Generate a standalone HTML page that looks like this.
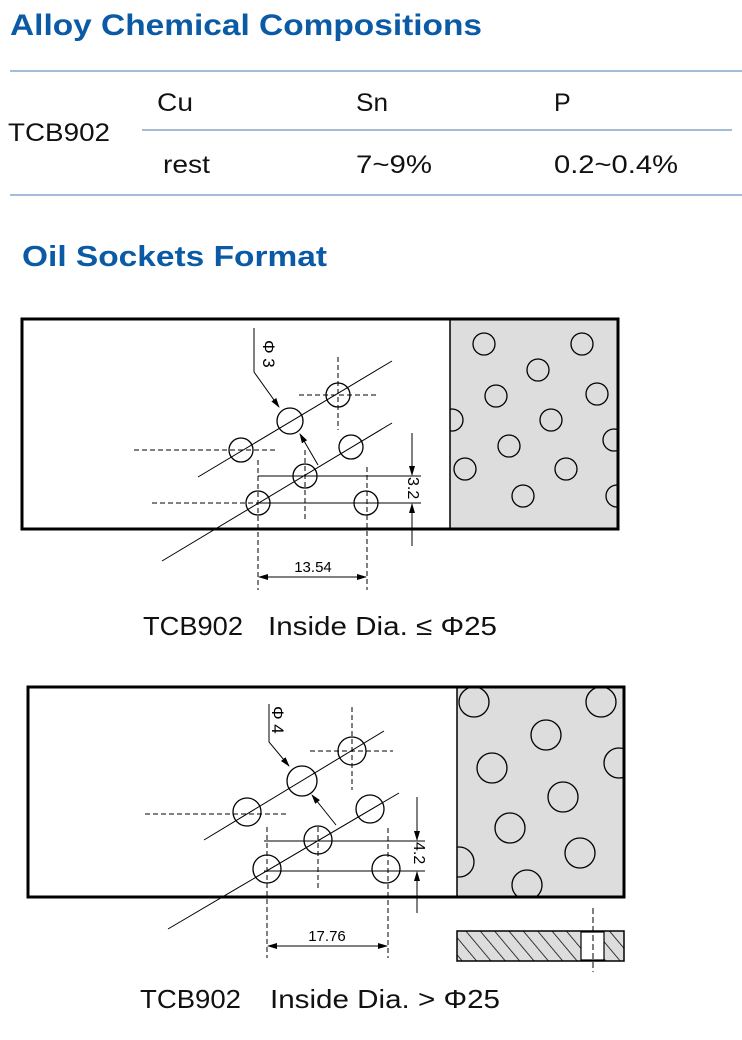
<!DOCTYPE html>
<html><head><meta charset="utf-8"><style>
html,body{margin:0;padding:0;background:#fff;}
svg{display:block;font-family:"Liberation Sans",sans-serif;}
</style></head><body>
<svg width="742" height="1040" viewBox="0 0 742 1040" xmlns="http://www.w3.org/2000/svg">
<defs>
<marker id="ar" markerWidth="10" markerHeight="8" refX="9" refY="4" orient="auto" markerUnits="userSpaceOnUse"><path d="M0,1 L10,4 L0,7 Z" fill="#000"/></marker>
<pattern id="hatch" width="11" height="11" patternUnits="userSpaceOnUse" patternTransform="rotate(-40)"><rect width="11" height="11" fill="#ddd"/><line x1="0" y1="0" x2="0" y2="11" stroke="#000" stroke-width="1.5"/></pattern>
<clipPath id="c1"><rect x="450" y="319" width="168" height="210"/></clipPath>
<clipPath id="c2"><rect x="457" y="687" width="167" height="210"/></clipPath>
</defs>
<text x="10" y="35" font-size="30" font-weight="bold" fill="#0b5aa6" textLength="472" lengthAdjust="spacingAndGlyphs">Alloy Chemical Compositions</text>
<line x1="10" y1="71" x2="742" y2="71" stroke="#a4bdd6" stroke-width="2"/>
<line x1="142" y1="130" x2="732" y2="130" stroke="#a4bdd6" stroke-width="2"/>
<line x1="10" y1="195" x2="742" y2="195" stroke="#a4bdd6" stroke-width="2"/>
<g font-size="25" fill="#111">
<text x="8" y="141" textLength="102" lengthAdjust="spacingAndGlyphs">TCB902</text>
<text x="157" y="111" textLength="36" lengthAdjust="spacingAndGlyphs">Cu</text>
<text x="356" y="111" textLength="32" lengthAdjust="spacingAndGlyphs">Sn</text>
<text x="554" y="111">P</text>
<text x="163" y="173" textLength="47" lengthAdjust="spacingAndGlyphs">rest</text>
<text x="356" y="173" textLength="76" lengthAdjust="spacingAndGlyphs">7~9%</text>
<text x="554" y="173" textLength="124" lengthAdjust="spacingAndGlyphs">0.2~0.4%</text>
</g>
<text x="22" y="266" font-size="29" font-weight="bold" fill="#0b5aa6" textLength="305" lengthAdjust="spacingAndGlyphs">Oil Sockets Format</text>

<!-- Diagram 1 -->
<rect x="450" y="319" width="168" height="210" fill="#ddd"/>
<g stroke="#000" fill="none">
<g stroke-width="1.3" clip-path="url(#c1)">
<circle cx="484" cy="344" r="11"/><circle cx="582" cy="344" r="11"/><circle cx="538" cy="370" r="11"/>
<circle cx="496" cy="396" r="11"/><circle cx="597" cy="394" r="11"/><circle cx="452" cy="420" r="11"/>
<circle cx="551" cy="420" r="11"/><circle cx="509" cy="446" r="11"/><circle cx="614" cy="440" r="11"/>
<circle cx="465" cy="469" r="11"/><circle cx="566" cy="469" r="11"/><circle cx="523" cy="496" r="11"/><circle cx="617" cy="496" r="11"/>
</g>
<g stroke-width="1" stroke-dasharray="5,3">
<line x1="338" y1="357" x2="338" y2="430"/><line x1="299" y1="395" x2="376" y2="395"/>
<line x1="134" y1="450" x2="276" y2="450"/><line x1="152" y1="503" x2="258" y2="503"/>
<line x1="258" y1="460" x2="258" y2="590"/><line x1="305" y1="450" x2="305" y2="520"/><line x1="367" y1="467" x2="367" y2="590"/>
</g>
<g stroke-width="1">
<line x1="198" y1="477" x2="392" y2="361"/>
<line x1="162" y1="561" x2="392" y2="423"/>
<line x1="258" y1="476" x2="421" y2="476"/>
<line x1="258" y1="503" x2="421" y2="503"/>
<line x1="412" y1="433" x2="412" y2="475" marker-end="url(#ar)"/>
<line x1="412" y1="546" x2="412" y2="504" marker-end="url(#ar)"/>
<line x1="312" y1="577" x2="259" y2="577" marker-end="url(#ar)"/>
<line x1="312" y1="577" x2="366" y2="577" marker-end="url(#ar)"/>
<polyline points="254,328 254,372 279,407" marker-end="url(#ar)"/>
<line x1="318" y1="465" x2="300" y2="434" marker-end="url(#ar)"/>
</g>
<g stroke-width="1.3">
<circle cx="290" cy="421" r="13"/><circle cx="338" cy="395" r="12"/><circle cx="241" cy="450" r="12"/>
<circle cx="351" cy="447" r="12"/><circle cx="305" cy="476" r="12"/><circle cx="258" cy="503" r="12"/><circle cx="366" cy="503" r="12"/>
</g>
</g>
<rect x="22" y="319" width="596" height="210" fill="none" stroke="#000" stroke-width="3"/>
<line x1="450" y1="319" x2="450" y2="529" stroke="#000" stroke-width="1.5"/>
<text x="0" y="0" font-size="17" transform="translate(263,340) rotate(90)">Φ 3</text>
<text x="0" y="0" font-size="16" transform="translate(408,477) rotate(90)">3.2</text>
<text x="313" y="572" font-size="15" text-anchor="middle">13.54</text>
<text x="143" y="635" font-size="26" fill="#111" textLength="100" lengthAdjust="spacingAndGlyphs">TCB902</text>
<text x="268" y="635" font-size="26" fill="#111" textLength="229" lengthAdjust="spacingAndGlyphs">Inside Dia. ≤ Φ25</text>

<!-- Diagram 2 -->
<rect x="457" y="687" width="167" height="210" fill="#ddd"/>
<g stroke="#000" fill="none">
<g stroke-width="1.3" clip-path="url(#c2)">
<circle cx="474" cy="702" r="15"/><circle cx="601" cy="702" r="15"/><circle cx="546" cy="735" r="15"/>
<circle cx="492" cy="768" r="15"/><circle cx="619" cy="763" r="15"/><circle cx="563" cy="797" r="15"/>
<circle cx="510" cy="828" r="15"/><circle cx="459" cy="862" r="15"/><circle cx="580" cy="853" r="15"/><circle cx="527" cy="885" r="15"/>
</g>
<g stroke-width="1" stroke-dasharray="5,3">
<line x1="352" y1="707" x2="352" y2="790"/><line x1="310" y1="751" x2="393" y2="751"/>
<line x1="145" y1="814" x2="286" y2="814"/>
<line x1="267" y1="827" x2="267" y2="958"/><line x1="318" y1="827" x2="318" y2="890"/><line x1="388" y1="828" x2="388" y2="958"/>
</g>
<g stroke-width="1">
<line x1="204" y1="840" x2="384" y2="731"/>
<line x1="168" y1="929" x2="399" y2="793"/>
<line x1="264" y1="841" x2="425" y2="841"/>
<line x1="264" y1="871" x2="425" y2="871"/>
<line x1="417" y1="797" x2="417" y2="840" marker-end="url(#ar)"/>
<line x1="417" y1="913" x2="417" y2="872" marker-end="url(#ar)"/>
<line x1="327" y1="946" x2="268" y2="946" marker-end="url(#ar)"/>
<line x1="327" y1="946" x2="387" y2="946" marker-end="url(#ar)"/>
<polyline points="269,704 269,742 289,766" marker-end="url(#ar)"/>
<line x1="336" y1="825" x2="312" y2="795" marker-end="url(#ar)"/>
</g>
<g stroke-width="1.3">
<circle cx="302" cy="781" r="15"/><circle cx="352" cy="751" r="14"/><circle cx="247" cy="812" r="14"/>
<circle cx="370" cy="809" r="14"/><circle cx="318" cy="840" r="14"/><circle cx="267" cy="869" r="14"/><circle cx="386" cy="869" r="14"/>
</g>
</g>
<rect x="28" y="687" width="596" height="210" fill="none" stroke="#000" stroke-width="3"/>
<line x1="457" y1="687" x2="457" y2="897" stroke="#000" stroke-width="1.5"/>
<rect x="457" y="931" width="167" height="30" fill="url(#hatch)" stroke="#000" stroke-width="1.5"/>
<rect x="581" y="932" width="23" height="28" fill="#fff" stroke="#000" stroke-width="1.2"/>
<line x1="593" y1="908" x2="593" y2="972" stroke="#000" stroke-width="1" stroke-dasharray="6,3"/>
<text x="0" y="0" font-size="17" transform="translate(272,706) rotate(90)">Φ 4</text>
<text x="0" y="0" font-size="16" transform="translate(414,842) rotate(90)">4.2</text>
<text x="327" y="941" font-size="15" text-anchor="middle">17.76</text>
<text x="140" y="1008" font-size="26" fill="#111" textLength="101" lengthAdjust="spacingAndGlyphs">TCB902</text>
<text x="270" y="1008" font-size="26" fill="#111" textLength="230" lengthAdjust="spacingAndGlyphs">Inside Dia. &gt; Φ25</text>
</svg>
</body></html>
